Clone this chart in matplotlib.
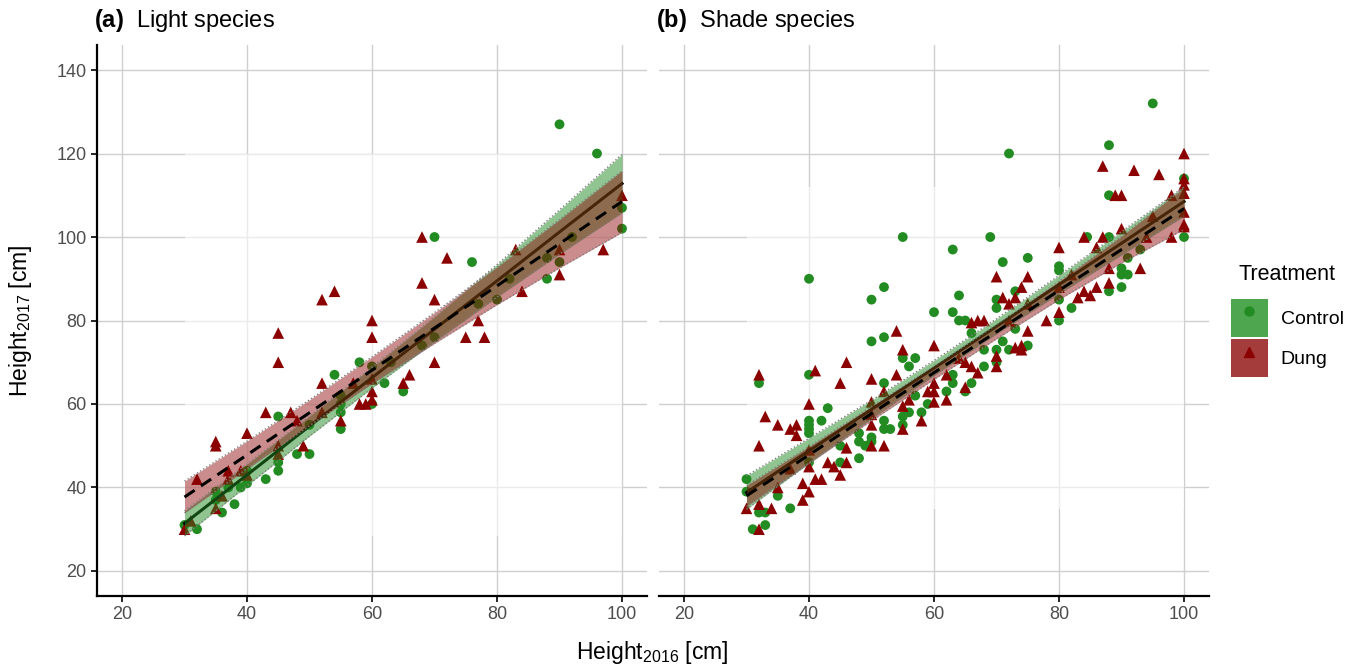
import matplotlib
matplotlib.use("Agg")
import matplotlib.pyplot as plt
import numpy as np
from matplotlib.patches import Patch, Rectangle
from matplotlib.lines import Line2D

plt.rcParams['font.family'] = ['Liberation Sans', 'DejaVu Sans']
plt.rcParams['mathtext.fontset'] = 'custom'
plt.rcParams['mathtext.rm'] = 'Liberation Sans'
plt.rcParams['mathtext.bf'] = 'Liberation Sans:bold'
plt.rcParams['mathtext.default'] = 'regular'

# (a) light species
light_ctrl_x = [90, 96, 100, 100, 70, 76, 88, 88, 90, 92, 82, 80, 77, 70, 68, 63, 58, 60, 54, 62, 65, 55,
                55, 55, 55, 60, 50, 45, 45, 45, 48, 50, 43, 40, 40, 39, 37, 35, 35, 36, 38, 32, 30]
light_ctrl_y = [127, 120, 107, 102, 100, 94, 90, 95, 94, 100, 90, 85, 84, 76, 74, 70, 70, 69, 67, 65, 63, 62,
                60, 58, 54, 60, 55, 57, 46, 44, 48, 48, 42, 44, 41, 40, 40, 39, 37, 34, 36, 30, 31]
light_dung_x = [100, 97, 90, 90, 83, 84, 77, 75, 78, 68, 72, 68, 70, 70, 66, 65, 60, 60, 60, 60, 60, 59, 58,
                57, 52, 54, 52, 52, 55, 47, 48, 43, 45, 45, 45, 45, 49, 40, 39, 40, 37, 37, 36, 35, 35, 35,
                32, 31, 30]
light_dung_y = [110, 97, 97, 91, 97, 87, 80, 76, 76, 100, 95, 89, 85, 70, 67, 65, 80, 76, 66, 63, 61, 60, 60,
                65, 85, 87, 65, 58, 56, 58, 56, 58, 77, 70, 50, 48, 50, 53, 44, 43, 42, 44, 38, 51, 50, 35,
                42, 32, 30]

# (b) shade species
shade_ctrl_x = [95, 88, 72, 88, 100, 100, 55, 69, 63, 71, 75, 40, 52, 50, 64, 60, 63, 64, 65, 70, 70, 73, 73,
                72, 75, 71, 70, 70, 68, 68, 66, 50, 52, 55, 57, 56, 52, 65, 66, 63, 63, 62, 57, 59, 56, 58,
                55, 55, 52, 52, 53, 50, 50, 48, 48, 49, 48, 45, 45, 43, 42, 40, 40, 40, 40, 40, 40, 35, 37,
                32, 32, 33, 33, 31, 30, 30, 80, 80, 80, 80, 82, 84.5, 88, 90, 90, 90, 91, 88, 93, 91]
shade_ctrl_y = [132, 122, 120, 110, 114, 100, 100, 100, 97, 94, 95, 90, 88, 85, 86, 82, 82, 80, 80, 85, 83, 87,
                78, 73, 74, 75, 73, 70, 73, 69, 77, 75, 76, 71, 71, 69, 65, 63, 65, 65, 67, 63, 62, 60, 58,
                58, 57, 55, 56, 54, 54, 52, 51, 53, 51, 50, 47, 50, 46, 59, 56, 67, 56, 55, 54, 53, 46, 38,
                35, 65, 34, 34, 31, 30, 42, 39, 93, 92, 85, 80, 83, 100, 100, 92.5, 91, 88, 91, 87, 97, 95]
shade_dung_x = [100, 87, 92, 96, 89, 90, 100, 100, 100, 100, 100, 100, 98, 98, 95, 94, 90, 87, 84, 86, 88, 93,
                88, 86, 85, 84, 83, 82, 80, 80, 80, 78, 75, 74, 75, 75, 70, 71, 72, 73, 72, 74, 73, 74, 70,
                70, 68, 67, 66, 67, 66, 65, 64, 65, 62, 62, 60, 60, 60, 60, 59, 58, 55, 56, 55, 55, 54, 54,
                52, 50, 50, 50, 50, 50, 52, 46, 45, 46, 46, 45, 44, 43, 41, 40, 40, 40, 40, 41, 42, 38, 37,
                38, 35, 33, 32, 32, 39, 39, 37, 35, 34, 32, 30, 32]
shade_dung_y = [120, 117, 116, 115, 110, 110, 114, 112.5, 110.5, 106, 103, 102.5, 110, 100, 105, 100, 102, 100,
                100, 97.5, 92.5, 92.5, 89, 88, 86, 87, 85.5, 91, 97.5, 88, 82, 80, 90.5, 88, 84, 77.5, 90.5,
                85.5, 84, 85.5, 80, 74, 73.5, 73, 71.5, 69, 80, 80, 79.5, 67.5, 69, 70, 71, 64, 67, 61, 74,
                65, 63, 60.5, 63, 56, 73, 61, 59.5, 54, 77.5, 67, 63, 66, 60.5, 57.5, 55, 50, 50, 70, 65,
                49.5, 46, 43, 45, 46, 68, 60, 49, 45, 39, 42, 42, 55, 54, 52.5, 55, 57, 67, 50, 41, 37,
                44.5, 40, 35, 36, 35, 30]

# fitted lines with ribbons (read at these heights)
x_fit = [30, 40, 50, 60, 70, 80, 90, 100]
light_ctrl_fit = [31.4, 43.0, 54.7, 66.3, 77.9, 89.5, 101.2, 112.8]
light_ctrl_hw = [3.0, 2.6, 2.4, 2.5, 3.0, 3.9, 5.3, 7.0]
light_dung_fit = [37.7, 47.8, 57.9, 68.1, 78.2, 88.3, 98.4, 108.5]
light_dung_hw = [3.8, 3.3, 3.1, 3.2, 3.7, 4.5, 5.8, 7.4]
shade_ctrl_fit = [38.8, 48.8, 58.7, 68.6, 78.6, 88.6, 98.5, 108.5]
shade_ctrl_hw = [4.0, 3.0, 2.2, 1.8, 1.8, 2.2, 2.8, 3.5]
shade_dung_fit = [38.0, 47.8, 57.7, 67.5, 77.3, 87.2, 97.0, 106.8]
shade_dung_hw = [2.5, 2.0, 1.7, 1.6, 1.7, 2.2, 3.2, 5.0]

green = '#228B22'
red = '#8B0000'

fig = plt.figure(figsize=(13.59, 6.69), dpi=100)
ax1 = fig.add_axes([97 / 1359, 1 - 596 / 669, 550 / 1359, 551 / 669])
ax2 = fig.add_axes([659 / 1359, 1 - 596 / 669, 550 / 1359, 551 / 669])

panels = [
    (ax1, r'$\mathbf{(a)}$  Light species', light_ctrl_x, light_ctrl_y, light_dung_x, light_dung_y,
     light_ctrl_fit, light_ctrl_hw, light_dung_fit, light_dung_hw),
    (ax2, r'$\mathbf{(b)}$  Shade species', shade_ctrl_x, shade_ctrl_y, shade_dung_x, shade_dung_y,
     shade_ctrl_fit, shade_ctrl_hw, shade_dung_fit, shade_dung_hw),
]

xf = np.array(x_fit)
for ax, title, cx, cy, dx, dy, cfit, chw, dfit, dhw in panels:
    ax.set_xlim(16, 104)
    ax.set_ylim(14, 146)
    ax.set_xticks([20, 40, 60, 80, 100])
    ax.set_yticks([20, 40, 60, 80, 100, 120, 140])
    ax.set_axisbelow(True)
    ax.grid(True, color='#cfcfcf', lw=1.0)
    for s in ['top', 'right']:
        ax.spines[s].set_visible(False)
    for s in ['left', 'bottom']:
        ax.spines[s].set_linewidth(1.6)
    ax.tick_params(length=4, width=1.2, labelsize=13, labelcolor='#4d4d4d')

    clo = np.array(cfit) - np.array(chw)
    chi = np.array(cfit) + np.array(chw)
    dlo = np.array(dfit) - np.array(dhw)
    dhi = np.array(dfit) + np.array(dhw)

    # faint box behind the ribbons (grid looks washed out there)
    ylo = min(clo.min(), dlo.min())
    yhi = max(chi.max(), dhi.max())
    ax.add_patch(Rectangle((xf[0], ylo), xf[-1] - xf[0], yhi - ylo, facecolor='white',
                           alpha=0.6, edgecolor='none', zorder=0.8))

    ax.scatter(cx, cy, s=50, marker='o', color=green, edgecolors='none', zorder=2)
    ax.scatter(dx, dy, s=70, marker='^', color=red, edgecolors='none', zorder=2)

    ax.plot(xf, cfit, color='black', lw=2.2, zorder=2.5)
    ax.fill_between(xf, clo, chi, color=green, alpha=0.5, lw=0, zorder=3)
    ax.fill_between(xf, dlo, dhi, color=red, alpha=0.45, lw=0, zorder=3.1)
    for arr in [clo, chi, dlo, dhi]:
        ax.plot(xf, arr, color='grey', lw=1.0, ls=':', zorder=3.2)
    ax.plot(xf, dfit, color='black', lw=2.2, ls=(0, (4, 2.5)), zorder=4)

    ax.set_title(title, loc='left', fontsize=17, pad=13, x=-0.005)

ax2.spines['left'].set_visible(False)
ax2.tick_params(left=False, labelleft=False)
ax1.set_ylabel(r'Height$_{2017}$ [cm]', fontsize=16.5, labelpad=16)
fig.text((97 + 1208) / 2 / 1359, 0.005, r'Height$_{2016}$ [cm]', fontsize=16.5, ha='center', va='bottom')

handles = [
    (Patch(facecolor='#4ea64e', edgecolor='none'),
     Line2D([], [], marker='o', color=green, ls='none', markersize=6.5)),
    (Patch(facecolor='#a53c3c', edgecolor='none'),
     Line2D([], [], marker='^', color=red, ls='none', markersize=7.5)),
]
fig.legend(handles, ['Control', 'Dung'], title='Treatment', loc='upper left',
           bbox_to_anchor=(1231 / 1359, 1 - 264 / 669), frameon=False, fontsize=14,
           title_fontsize=15.5, handlelength=1.9, handleheight=2.6, labelspacing=0.15,
           handletextpad=0.65, borderpad=0, borderaxespad=0)
leg = fig.legends[0]
leg._legend_box.sep = 10

fig.savefig('out.png', dpi=100)
